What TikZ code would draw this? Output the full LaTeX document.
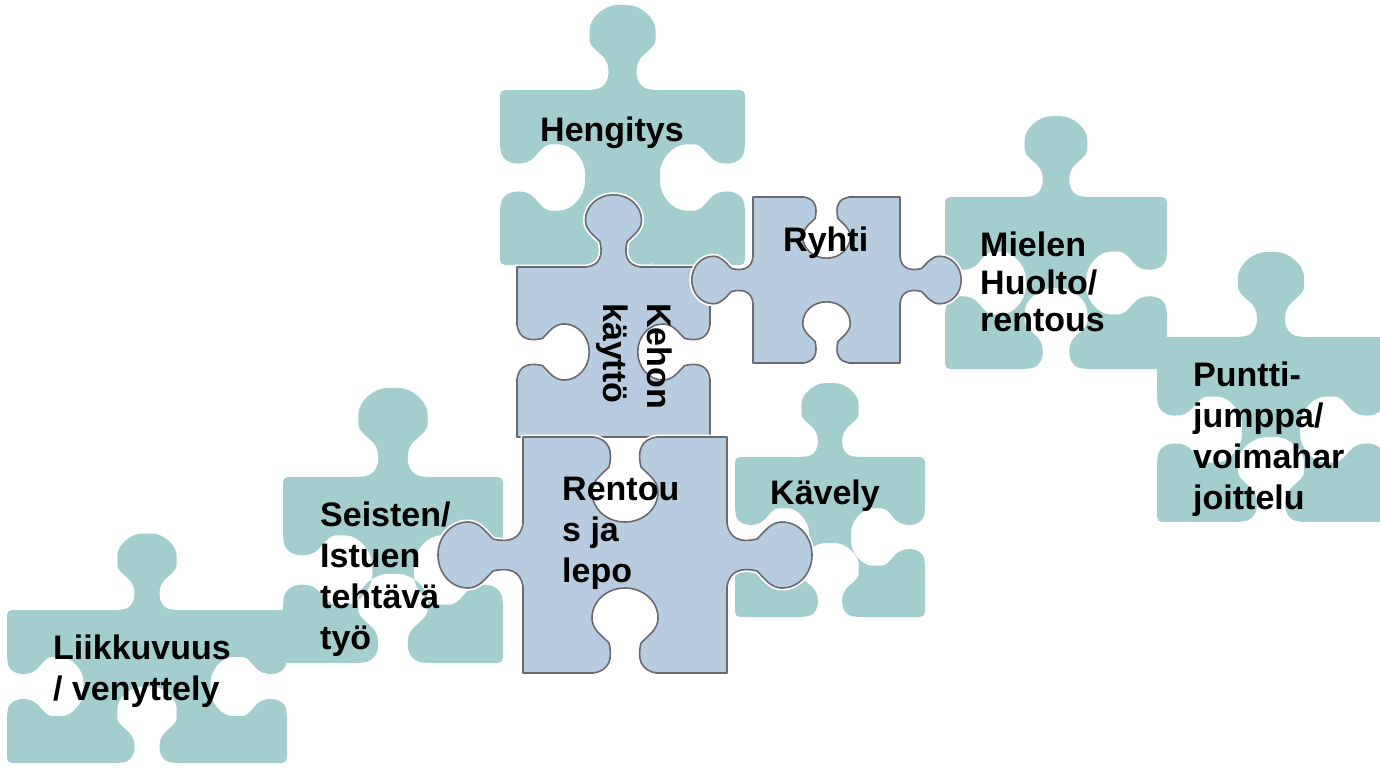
\documentclass[tikz,border=0pt]{standalone}
\usepackage{fontspec}
\setmainfont{Liberation Sans}
\definecolor{tealpiece}{RGB}{164,206,206}
\definecolor{bluepiece}{RGB}{184,204,224}
\definecolor{edgegray}{RGB}{105,105,112}
\def\kS{1}
% knob mappings: (s,o) along-edge / outward offsets
\newcommand\MT[2]{({\pW/2+\kS*(#1)},{-(\pT)*\kS*(#2)})}
\newcommand\MR[2]{({\pW+(\pR)*\kS*(#2)},{\pH/2+\kS*(#1)})}
\newcommand\MB[2]{({\pW/2-\kS*(#1)},{\pH+(\pB)*\kS*(#2)})}
\newcommand\ML[2]{({-(\pL)*\kS*(#2)},{\pH/2-\kS*(#1)})}
\newcommand\knobpath[1]{-- #1{-32}{0} .. controls #1{-16}{2} and #1{-12}{14} .. #1{-16}{30}
 .. controls #1{-24}{38} and #1{-33}{44} .. #1{-33}{55}
 .. controls #1{-33}{72} and #1{-18}{85} .. #1{0}{85}
 .. controls #1{18}{85} and #1{33}{72} .. #1{33}{55}
 .. controls #1{33}{44} and #1{24}{38} .. #1{16}{30}
 .. controls #1{12}{14} and #1{16}{2} .. #1{32}{0}}
% #1 x0, #2 y0, #3 W, #4 H, #5..#8 top/right/bottom/left (1 tab, -1 blank, 0 flat), #9 style
\newcommand\piece[9]{%
  \begin{scope}[shift={(#1,#2)}]
    \def\pW{#3}\def\pH{#4}\def\pT{#5}\def\pR{#6}\def\pB{#7}\def\pL{#8}%
    \edef\piecepath{(0,0) \knobpath\MT -- (\pW,0) \knobpath\MR -- (\pW,\pH) \knobpath\MB -- (0,\pH) \knobpath\ML -- cycle}%
    \path[#9] \piecepath;
  \end{scope}}
\tikzset{
  tealpc/.style={fill=tealpiece, rounded corners=5pt},
  bluepc/.style={fill=bluepiece, draw=edgegray, line width=1.6pt, line join=round,
                 preaction={draw=white, line width=5pt}},
  lbl/.style={font=\fontsize{34}{41}\selectfont\bfseries, align=left, anchor=north west, inner sep=0pt}
}
\begin{document}
\begin{tikzpicture}[x=1pt,y=-1pt]
\useasboundingbox (0,0) rectangle (1380,770);
\clip (0,0) rectangle (1380,770);
% teal pieces
\def\kS{1}\piece{500}{90}{245}{175}{1}{-1}{0}{-1}{tealpc}
\def\kS{0.95}\piece{945}{197}{222}{172}{1}{-1}{-1}{-1}{tealpc}
\def\kS{1}\piece{1157}{337}{228}{185}{1}{-1}{-1}{-1}{tealpc}
\def\kS{0.87}\piece{735}{457}{190}{160}{1}{-1}{-1}{-1}{tealpc}
\def\kS{1.05}\piece{283}{477}{220}{186}{1}{-1}{-1}{-1}{tealpc}
\def\kS{0.9}\piece{7}{610}{280}{153}{1}{-1}{-1}{-1}{tealpc}
% blue pieces
\def\kS{0.85}\piece{517}{267}{193}{170}{1}{-1}{0}{-1}{bluepc}
\def\kS{0.72}\piece{753}{197}{147}{166}{-1}{1}{-1}{1}{bluepc}
\def\kS{1}\piece{523}{437}{204}{236}{-1}{1}{-1}{1}{bluepc}
% labels
\node[lbl] (heng) at (540,117) {Hengitys};
\node[lbl] (ryhti) at (783,227) {Ryhti};
\node[lbl, font=\fontsize{34}{37.5}\selectfont\bfseries] (miel) at (980,232) {Mielen\\Huolto/\\rentous};
\node[lbl] (punt) at (1193,362) {Puntti-\\jumppa/\\voimahar\\joittelu};
\node[lbl] (kave) at (770,480) {Kävely};
\node[lbl] (seis) at (320,502) {Seisten/\\Istuen\\tehtävä\\työ};
\node[lbl] (liik) at (53,635) {Liikkuvuus\\/ venyttely};
\node[lbl] (rent) at (562,477) {Rentou\\s ja\\lepo};
\node[lbl, font=\fontsize{34}{44}\selectfont\bfseries, rotate=-90] (keho) at (672,303) {Kehon\\käyttö};
\end{tikzpicture}
\end{document}
